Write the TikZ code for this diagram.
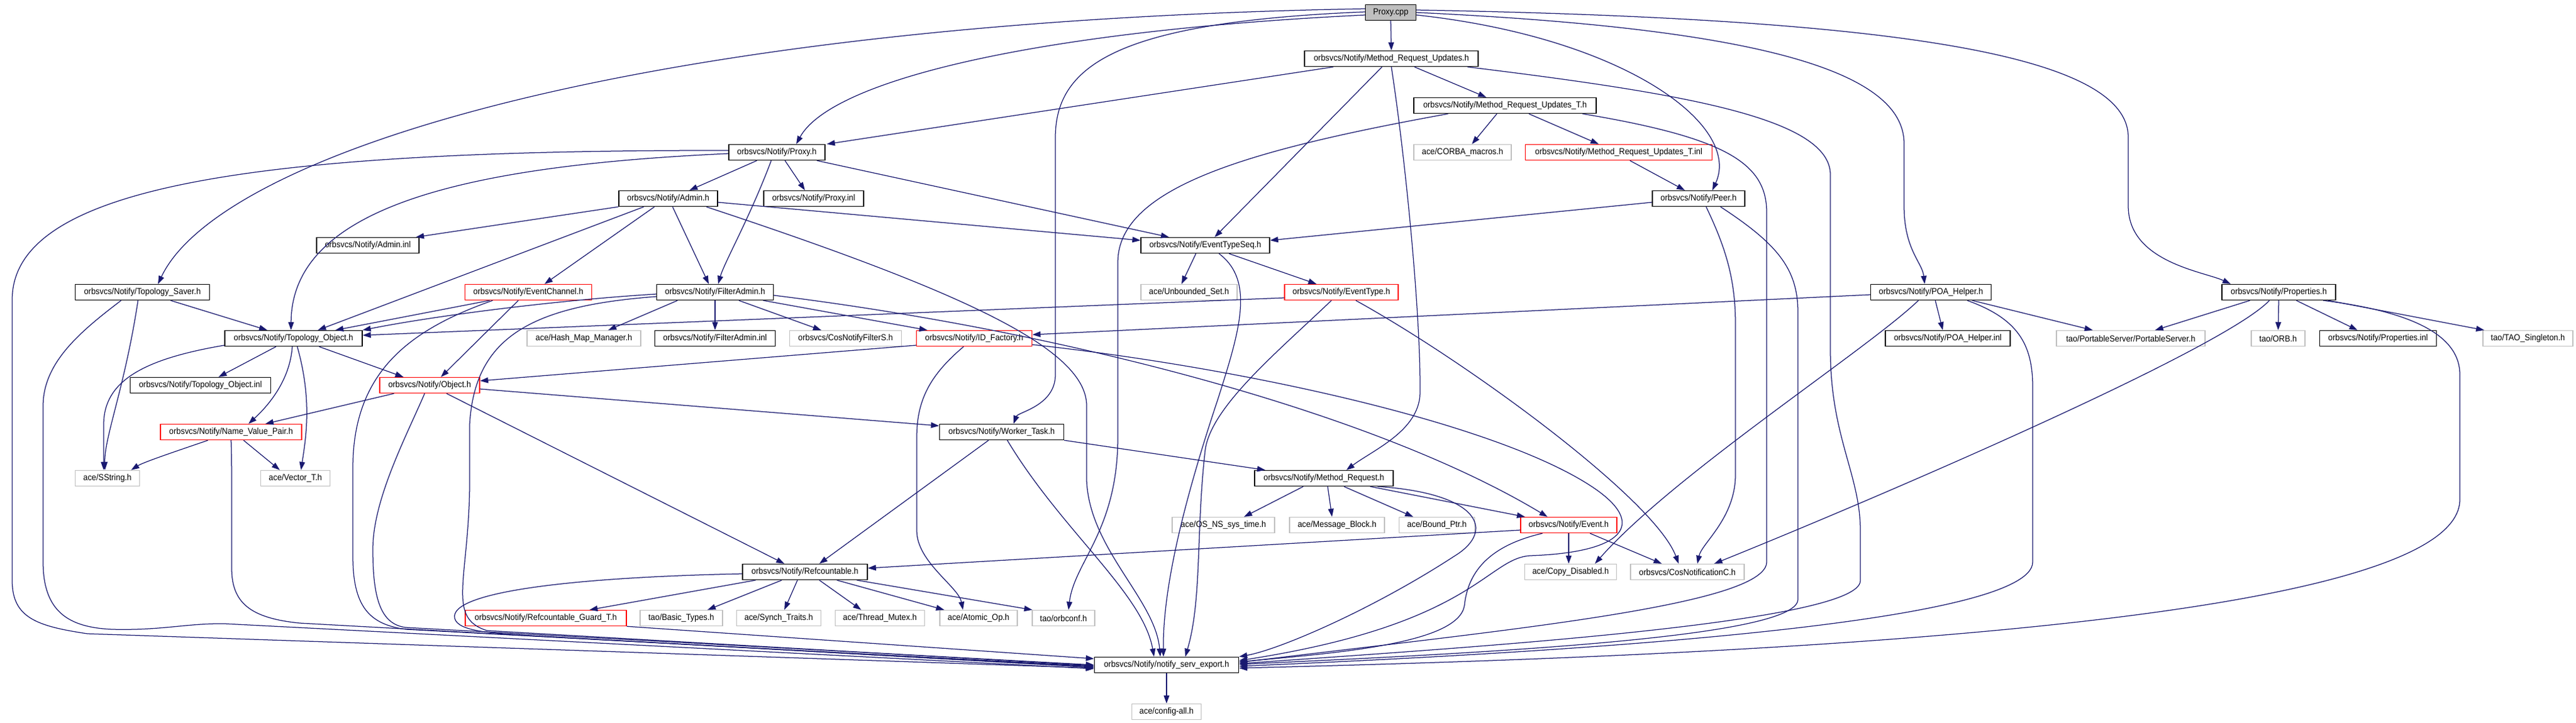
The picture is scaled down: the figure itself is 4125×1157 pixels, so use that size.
\documentclass[tikz,border=0pt]{standalone}
\usepackage{fontspec}
\setmainfont{Liberation Sans}[FakeStretch=0.92]
\usetikzlibrary{arrows.meta}
\definecolor{edgec}{HTML}{191970}
\definecolor{graybd}{HTML}{BFBFBF}
\begin{document}
\begin{tikzpicture}[x=1pt,y=-1pt,
  nd/.style={draw=black, line width=1.4pt, fill=white, minimum height=25pt, inner xsep=2pt, inner ysep=0pt, font=\fontsize{14}{16}\selectfont, text=black},
  gnd/.style={nd, draw=graybd},
  rnd/.style={nd, draw=red},
  dep/.style={draw=edgec, line width=1.25pt, -{Triangle[length=13pt,width=9pt]}}
]
\fill[white] (0,0) rectangle (4125,1157);
\useasboundingbox (0,0) rectangle (4125,1157);

% ---------- nodes ----------
\node[nd,fill=graybd,minimum width=81pt] (cpp) at (2227,20) {Proxy.cpp};
\node[nd,minimum width=278pt] (mru) at (2228,94) {orbsvcs/Notify/Method\_Request\_Updates.h};
\node[nd,minimum width=292pt] (mrut) at (2410,169) {orbsvcs/Notify/Method\_Request\_Updates\_T.h};
\node[gnd,minimum width=156pt] (corba) at (2342,244) {ace/CORBA\_macros.h};
\node[rnd,minimum width=299pt] (mruti) at (2592,244) {orbsvcs/Notify/Method\_Request\_Updates\_T.inl};
\node[nd,minimum width=148pt] (peer) at (2720,318) {orbsvcs/Notify/Peer.h};
\node[nd,minimum width=154pt] (proxyh) at (1244,244) {orbsvcs/Notify/Proxy.h};
\node[nd,minimum width=158pt] (admin) at (1070,318) {orbsvcs/Notify/Admin.h};
\node[nd,minimum width=160pt] (proxyinl) at (1303,318) {orbsvcs/Notify/Proxy.inl};
\node[nd,minimum width=164pt] (admininl) at (589,393) {orbsvcs/Notify/Admin.inl};
\node[nd,minimum width=206pt] (ets) at (1930,393) {orbsvcs/Notify/EventTypeSeq.h};
\node[rnd,minimum width=203pt] (ec) at (846,468) {orbsvcs/Notify/EventChannel.h};
\node[nd,minimum width=187pt] (fa) at (1145,468) {orbsvcs/Notify/FilterAdmin.h};
\node[gnd,minimum width=154pt] (us) at (1904,468) {ace/Unbounded\_Set.h};
\node[rnd,minimum width=182pt] (et) at (2148,468) {orbsvcs/Notify/EventType.h};
\node[nd,minimum width=193pt] (poa) at (3092,468) {orbsvcs/Notify/POA\_Helper.h};
\node[nd,minimum width=182pt] (props) at (3649,468) {orbsvcs/Notify/Properties.h};
\node[nd,minimum width=215pt] (ts) at (228,468) {orbsvcs/Notify/Topology\_Saver.h};
\node[nd,minimum width=220pt] (to) at (470,542) {orbsvcs/Notify/Topology\_Object.h};
\node[gnd,minimum width=182pt] (hmm) at (935,542) {ace/Hash\_Map\_Manager.h};
\node[nd,minimum width=193pt] (fainl) at (1145,542) {orbsvcs/Notify/FilterAdmin.inl};
\node[gnd,minimum width=179pt] (cnfs) at (1354,542) {orbsvcs/CosNotifyFilterS.h};
\node[rnd,minimum width=185pt] (idf) at (1560,542) {orbsvcs/Notify/ID\_Factory.h};
\node[nd,minimum width=200pt] (poainl) at (3119,542) {orbsvcs/Notify/POA\_Helper.inl};
\node[gnd,minimum width=238pt] (ps) at (3412,542) {tao/PortableServer/PortableServer.h};
\node[gnd,minimum width=86pt] (orb) at (3648,542) {tao/ORB.h};
\node[nd,minimum width=187pt] (propsinl) at (3808,542) {orbsvcs/Notify/Properties.inl};
\node[gnd,minimum width=144pt] (tsing) at (4048,542) {tao/TAO\_Singleton.h};
\node[nd,minimum width=225pt] (toinl) at (321,617) {orbsvcs/Notify/Topology\_Object.inl};
\node[rnd,minimum width=160pt] (obj) at (688,617) {orbsvcs/Notify/Object.h};
\node[rnd,minimum width=226pt] (nvp) at (370,692) {orbsvcs/Notify/Name\_Value\_Pair.h};
\node[nd,minimum width=199pt] (wt) at (1604,692) {orbsvcs/Notify/Worker\_Task.h};
\node[gnd,minimum width=103pt] (sstr) at (172,766) {ace/SString.h};
\node[gnd,minimum width=111pt] (vec) at (473,766) {ace/Vector\_T.h};
\node[nd,minimum width=222pt] (mr) at (2120,766) {orbsvcs/Notify/Method\_Request.h};
\node[gnd,minimum width=164pt] (ossys) at (1959,841) {ace/OS\_NS\_sys\_time.h};
\node[gnd,minimum width=152pt] (mb) at (2141,841) {ace/Message\_Block.h};
\node[gnd,minimum width=121pt] (bp) at (2301,841) {ace/Bound\_Ptr.h};
\node[rnd,minimum width=154pt] (ev) at (2512,841) {orbsvcs/Notify/Event.h};
\node[nd,minimum width=200pt] (ref) at (1289,916) {orbsvcs/Notify/Refcountable.h};
\node[gnd,minimum width=147pt] (cd) at (2515,916) {ace/Copy\_Disabled.h};
\node[gnd,minimum width=182pt] (cnc) at (2702,916) {orbsvcs/CosNotificationC.h};
\node[rnd,minimum width=258pt] (rgt) at (874,990) {orbsvcs/Notify/Refcountable\_Guard\_T.h};
\node[gnd,minimum width=132pt] (bt) at (1091,990) {tao/Basic\_Types.h};
\node[gnd,minimum width=135pt] (st) at (1247,990) {ace/Synch\_Traits.h};
\node[gnd,minimum width=143pt] (tm) at (1409,990) {ace/Thread\_Mutex.h};
\node[gnd,minimum width=124pt] (ao) at (1567,990) {ace/Atomic\_Op.h};
\node[gnd,minimum width=100pt] (orbconf) at (1703,990) {tao/orbconf.h};
\node[nd,minimum width=231pt] (nse) at (1868,1065) {orbsvcs/Notify/notify\_serv\_export.h};
\node[gnd,minimum width=111pt] (cfg) at (1868,1140) {ace/config-all.h};

% ---------- edges ----------
% Proxy.cpp
\draw[dep] (cpp.south) -- (mru.north);
\draw[dep] ([yshift=-4pt]cpp.west) .. controls (1650,50) and (1330,130) .. ([xshift=31pt]proxyh.north);
\draw[dep] ([yshift=6pt]cpp.west) .. controls (1000,35) and (350,250) .. ([xshift=25pt]ts.north);
\draw[dep] ([yshift=1pt]cpp.west) .. controls (1800,35) and (1690,100) .. (1690,220) -- (1690,600) .. controls (1690,650) and (1630,660) .. ([xshift=19pt]wt.north);
\draw[dep] ([yshift=-4pt]cpp.east) .. controls (2600,60) and (2790,200) .. ([xshift=22pt]peer.north);
\draw[dep] (cpp.east) .. controls (2800,45) and (3049,110) .. (3049,230) -- (3049,330) .. controls (3049,400) and (3078,420) .. ([xshift=-10pt]poa.north);
\draw[dep] ([yshift=4pt]cpp.east) .. controls (3050,30) and (3408,90) .. (3408,220) -- (3408,330) .. controls (3408,420) and (3530,435) .. ([xshift=-77pt]props.north);

% Method_Request_Updates.h
\draw[dep] ([xshift=-93pt]mru.south) -- ([xshift=80pt]proxyh.north);
\draw[dep] ([xshift=37pt]mru.south) -- ([xshift=-30pt]mrut.north);
\draw[dep] ([xshift=-15pt]mru.south) -- ([xshift=15pt]ets.north);
\draw[dep] (mru.south) .. controls (2250,250) and (2275,500) .. (2274,630) .. controls (2272,690) and (2200,720) .. ([xshift=36pt]mr.north);
\draw[dep] ([xshift=122pt]mru.south) .. controls (2700,150) and (2931,190) .. (2931,280) -- (2931,560) .. controls (2931,700) and (2979,760) .. (2979,850) -- (2979,930) .. controls (2979,1000) and (2300,1040) .. ([yshift=2pt]nse.east);

% Method_Request_Updates_T.h
\draw[dep] ([xshift=-13pt]mrut.south) -- ([xshift=15pt]corba.north);
\draw[dep] ([xshift=38pt]mrut.south) -- ([xshift=-32pt]mruti.north);
\draw[dep] ([xshift=-91pt]mrut.south) .. controls (2000,240) and (1790,300) .. (1790,420) -- (1790,700) .. controls (1790,850) and (1720,900) .. ([xshift=8pt]orbconf.north);
\draw[dep] ([xshift=124pt]mrut.south) .. controls (2760,220) and (2829,260) .. (2829,340) -- (2829,900) .. controls (2829,970) and (2400,1010) .. ([yshift=4pt]nse.east);

% Method_Request_Updates_T.inl
\draw[dep] ([xshift=18pt]mruti.south) -- ([xshift=-22pt]peer.north);

% Peer.h
\draw[dep] ([yshift=-6pt]peer.west) -- ([yshift=8pt]ets.east);
\draw[dep] ([xshift=12pt]peer.south) .. controls (2765,400) and (2779,450) .. (2779,520) -- (2779,760) .. controls (2779,830) and (2725,870) .. ([xshift=16pt]cnc.north);
\draw[dep] ([xshift=35pt]peer.south) .. controls (2845,390) and (2879,430) .. (2879,500) -- (2879,960) .. controls (2879,1020) and (2400,1045) .. ([yshift=1pt]nse.east);

% Proxy.h
\draw[dep] ([xshift=-32pt]proxyh.south) -- ([xshift=34pt]admin.north);
\draw[dep] ([xshift=13pt]proxyh.south) -- ([xshift=-14pt]proxyinl.north);
\draw[dep] ([xshift=-9pt]proxyh.south) .. controls (1200,350) and (1160,420) .. ([xshift=5pt]fa.north);
\draw[dep] ([xshift=64pt]proxyh.south) -- ([xshift=-58pt]ets.north);
\draw[dep] ([yshift=-2pt]proxyh.west) .. controls (750,265) and (467,330) .. ([xshift=-4pt]to.north);
\draw[dep] ([yshift=3pt]proxyh.west) .. controls (400,240) and (19.5,300) .. (19.5,480) -- (19.5,930) .. controls (19.5,990) and (60,1003) .. (140,1015) -- ([yshift=-5pt]nse.west);

% Admin.h
\draw[dep] (admin.south west) -- ([xshift=77pt]admininl.north);
\draw[dep] ([xshift=-39pt]admin.south) -- ([xshift=39pt]to.north);
\draw[dep] ([xshift=-22pt]admin.south) -- ([xshift=26pt]ec.north);
\draw[dep] ([xshift=7pt]admin.south) -- ([xshift=-10pt]fa.north);
\draw[dep] ([yshift=-6pt]admin.east) -- ([yshift=8pt]ets.west);
\draw[dep] ([xshift=61pt]admin.south) .. controls (1550,470) and (1740,560) .. (1740,650) -- (1740,770) .. controls (1745,880) and (1850,960) .. ([xshift=-10pt]nse.north);

% EventTypeSeq.h
\draw[dep] ([xshift=-15pt]ets.south) -- ([xshift=-12pt]us.north);
\draw[dep] ([xshift=38pt]ets.south) -- ([xshift=-40pt]et.north);
\draw[dep] ([xshift=22pt]ets.south) .. controls (2010,450) and (1985,530) .. (1950,640) .. controls (1890,820) and (1862,950) .. ([xshift=-5pt]nse.north);

% EventType.h
\draw[dep] ([yshift=-9pt]et.west) -- ([yshift=5pt]to.east);
\draw[dep] ([xshift=23pt]et.south) .. controls (2350,580) and (2650,800) .. ([xshift=-14pt]cnc.north);
\draw[dep] ([xshift=-16pt]et.south) .. controls (2050,560) and (1940,650) .. (1930,720) .. controls (1915,850) and (1925,960) .. ([xshift=30pt]nse.north);

% ID_Factory.h
\draw[dep] ([yshift=-11pt]idf.west) -- ([yshift=7pt]obj.east);
\draw[dep] ([xshift=-17pt]idf.south) .. controls (1490,600) and (1468,640) .. (1468,700) -- (1468,850) .. controls (1468,900) and (1535,940) .. ([xshift=-25pt]ao.north);
\draw[dep] ([yshift=-10pt]idf.east) .. controls (2000,590) and (2400,680) .. (2550,780) .. controls (2640,840) and (2600,885) .. (2450,890) .. controls (2380,895) and (2360,1000) .. ([yshift=7pt]nse.east);

% POA_Helper.h
\draw[dep] ([yshift=-4pt]poa.west) -- ([yshift=6pt]idf.east);
\draw[dep] ([xshift=7pt]poa.south) -- ([xshift=-8pt]poainl.north);
\draw[dep] ([xshift=66pt]poa.south) -- ([xshift=-61pt]ps.north);
\draw[dep] ([xshift=-20pt]poa.south) .. controls (2990,560) and (2680,760) .. ([xshift=39pt]cd.north);
\draw[dep] ([xshift=58pt]poa.south) .. controls (3230,510) and (3255,550) .. (3255,620) -- (3255,900) .. controls (3255,1000) and (2500,1045) .. ([yshift=-2pt]nse.east);

% Properties.h
\draw[dep] ([xshift=-46pt]props.south) -- ([xshift=39pt]ps.north);
\draw[dep] ([xshift=-15pt]props.south) .. controls (3560,560) and (3000,800) .. ([xshift=43pt]cnc.north);
\draw[dep] (props.south) -- (orb.north);
\draw[dep] ([xshift=28pt]props.south) -- ([xshift=-33pt]propsinl.north);
\draw[dep] ([xshift=79pt]props.south) -- ([xshift=-70pt]tsing.north);
\draw[dep] ([xshift=71pt]props.south) .. controls (3870,500) and (3939,540) .. (3939,600) -- (3939,800) .. controls (3939,1000) and (2800,1050) .. ([yshift=-5pt]nse.east);

% FilterAdmin.h
\draw[dep] ([yshift=-3pt]fa.west) .. controls (900,480) and (700,505) .. (to.north east);
\draw[dep] ([yshift=-7pt]fa.west) .. controls (850,490) and (760,540) .. (752,680) -- (752,780) .. controls (750,930) and (715,990) .. (780,1010) -- ([yshift=-1pt]nse.west);
\draw[dep] ([xshift=-60pt]fa.south) -- ([xshift=39pt]hmm.north);
\draw[dep] (fa.south) -- (fainl.north);
\draw[dep] ([xshift=38pt]fa.south) -- ([xshift=-39pt]cnfs.north);
\draw[dep] ([xshift=77pt]fa.south) -- ([xshift=-75pt]idf.north);
\draw[dep] ([yshift=-5pt]fa.east) .. controls (1700,530) and (2200,660) .. ([xshift=-34pt]ev.north);

% EventChannel.h
\draw[dep] ([xshift=-62pt]ec.south) -- ([xshift=67pt]to.north);
\draw[dep] ([xshift=-16pt]ec.south) -- ([xshift=18pt]obj.north);
\draw[dep] ([xshift=-57pt]ec.south) .. controls (650,530) and (565,600) .. (565,750) -- (565,890) .. controls (565,970) and (590,1000) .. (650,1008) -- ([yshift=-2pt]nse.west);

% Topology_Object.h
\draw[dep] ([xshift=-28pt]to.south) -- ([xshift=29pt]toinl.north);
\draw[dep] ([xshift=-2pt]to.south) .. controls (465,600) and (440,640) .. ([xshift=28pt]nvp.north);
\draw[dep] ([xshift=6pt]to.south) .. controls (500,640) and (490,700) .. ([xshift=9pt]vec.north);
\draw[dep] ([xshift=41pt]to.south) -- ([xshift=-42pt]obj.north);
\draw[dep] ([yshift=-11pt]to.west) .. controls (230,575) and (166,610) .. (166,680) -- ([xshift=-6pt]sstr.north);

% Topology_Saver.h
\draw[dep] ([xshift=45pt]ts.south) -- ([xshift=-42pt]to.north);
\draw[dep] ([xshift=-7pt]ts.south) .. controls (200,620) and (167,700) .. ([xshift=-4pt]sstr.north);
\draw[dep] ([xshift=-34pt]ts.south) .. controls (130,530) and (69,580) .. (69,650) -- (69,900) .. controls (69,980) and (110,1005) .. (180,1008) .. controls (260,1010) and (300,998) .. (360,999) -- ([yshift=-6pt]nse.west);

% Name_Value_Pair.h
\draw[dep] ([xshift=-37pt]nvp.south) .. controls (290,720) and (230,740) .. ([xshift=38pt]sstr.north);
\draw[dep] ([xshift=20pt]nvp.south) -- ([xshift=-25pt]vec.north);
\draw[dep] (nvp.south) .. controls (371,730) and (371,760) .. (371,800) -- (371,910) .. controls (371,965) and (400,990) .. (480,998) -- ([yshift=-3pt]nse.west);

% Object.h
\draw[dep] ([xshift=-57pt]obj.south) -- ([xshift=55pt]nvp.north);
\draw[dep] ([xshift=-8pt]obj.south) .. controls (650,700) and (597,800) .. (597,880) .. controls (597,960) and (610,1000) .. (650,1005) -- (nse.west);
\draw[dep] ([yshift=-6pt]obj.east) -- ([yshift=10pt]wt.west);
\draw[dep] ([xshift=27pt]obj.south) -- ([xshift=-33pt]ref.north);

% Worker_Task.h
\draw[dep] ([xshift=-21pt]wt.south) -- ([xshift=23pt]ref.north);
\draw[dep] (wt.south east) -- ([xshift=-94pt]mr.north);
\draw[dep] ([xshift=9pt]wt.south) .. controls (1700,850) and (1830,950) .. ([xshift=-20pt]nse.north);

% Method_Request.h
\draw[dep] ([xshift=-33pt]mr.south) -- ([xshift=33pt]ossys.north);
\draw[dep] ([xshift=6pt]mr.south) -- ([xshift=-8pt]mb.north);
\draw[dep] ([xshift=32pt]mr.south) -- ([xshift=-38pt]bp.north);
\draw[dep] ([xshift=74pt]mr.south) -- ([xshift=-70pt]ev.north);
\draw[dep] ([xshift=86pt]mr.south) .. controls (2370,790) and (2395,850) .. (2330,890) .. controls (2200,975) and (2050,1040) .. (nse.north east);

% Event.h
\draw[dep] ([yshift=-8pt]ev.west) -- ([yshift=6pt]ref.east);
\draw[dep] (ev.south) -- ([xshift=-3pt]cd.north);
\draw[dep] ([xshift=34pt]ev.south) -- ([xshift=-41pt]cnc.north);
\draw[dep] ([xshift=-42pt]ev.south) .. controls (2380,875) and (2350,920) .. (2345,970) .. controls (2335,1030) and (2150,1045) .. ([yshift=5pt]nse.east);

% Refcountable.h
\draw[dep] ([xshift=-79pt]ref.south) -- ([xshift=70pt]rgt.north);
\draw[dep] ([xshift=-37pt]ref.south) -- ([xshift=42pt]bt.north);
\draw[dep] ([xshift=-12pt]ref.south) -- ([xshift=9pt]st.north);
\draw[dep] ([xshift=23pt]ref.south) -- ([xshift=-30pt]tm.north);
\draw[dep] ([xshift=51pt]ref.south) -- ([xshift=-55pt]ao.north);
\draw[dep] ([xshift=83pt]ref.south) -- ([xshift=-50pt]orbconf.north);
\draw[dep] ([yshift=-3pt]ref.west) .. controls (900,925) and (720,950) .. (728,990) .. controls (733,1012) and (790,1014) .. (850,1018) -- ([yshift=-4pt]nse.west);

% Refcountable_Guard_T.h
\draw[dep] (rgt.south east) -- ([yshift=10pt]nse.west);

% notify_serv_export.h
\draw[dep] (nse.south) -- (cfg.north);
\end{tikzpicture}
\end{document}
